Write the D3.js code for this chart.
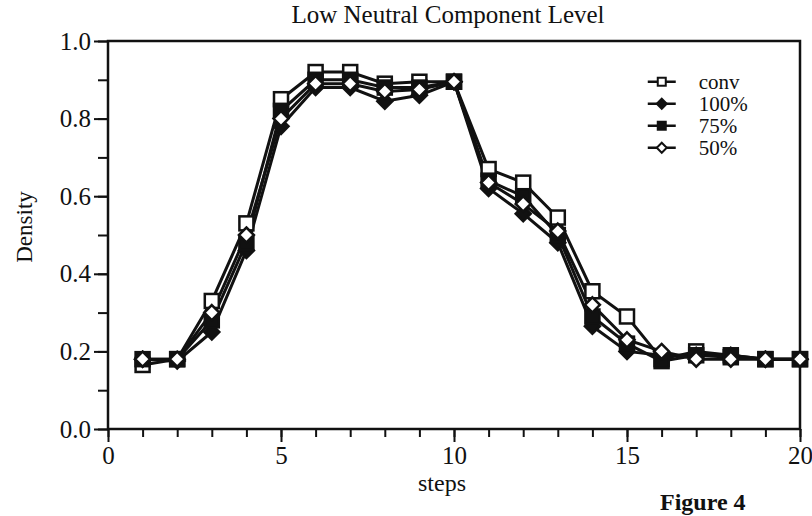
<!DOCTYPE html>
<html>
<head>
<meta charset="utf-8">
<script src="https://cdn.jsdelivr.net/npm/d3@7"></script>
<style>
  body { margin: 0; background: #fff; }
  text { font-family: "Liberation Serif", "DejaVu Serif", serif; fill: #111; }
</style>
</head>
<body>
<div id="chart-container"></div>
<script>
const steps = [1, 2, 3, 4, 5, 6, 7, 8, 9, 10, 11, 12, 13, 14, 15, 16, 17, 18, 19, 20];
const conv = [0.165, 0.18, 0.33, 0.53, 0.85, 0.92, 0.92, 0.89, 0.895, 0.895, 0.67, 0.635, 0.545, 0.355, 0.29, 0.18, 0.20, 0.19, 0.18, 0.18];
const pct100 = [0.18, 0.175, 0.25, 0.46, 0.78, 0.88, 0.88, 0.845, 0.86, 0.895, 0.62, 0.555, 0.48, 0.265, 0.20, 0.19, 0.19, 0.19, 0.18, 0.18];
const pct75 = [0.18, 0.18, 0.28, 0.48, 0.82, 0.90, 0.90, 0.88, 0.88, 0.895, 0.64, 0.60, 0.50, 0.29, 0.22, 0.175, 0.19, 0.185, 0.18, 0.18];
const pct50 = [0.18, 0.18, 0.30, 0.50, 0.80, 0.89, 0.89, 0.87, 0.875, 0.895, 0.635, 0.58, 0.51, 0.32, 0.23, 0.20, 0.18, 0.18, 0.18, 0.18];
const seriesNames = ["conv", "100%", "75%", "50%"];
const xTicks = [0, 5, 10, 15, 20];
const yTicks = [0.0, 0.2, 0.4, 0.6, 0.8, 1.0];

const series = [
    { name: seriesNames[0], values: conv, shape: "square", filled: false },
    { name: seriesNames[1], values: pct100, shape: "diamond", filled: true },
    { name: seriesNames[2], values: pct75, shape: "square", filled: true },
    { name: seriesNames[3], values: pct50, shape: "diamond", filled: false }
];

const margin = { top: 41, right: 12, bottom: 87, left: 108 };
const width = 812 - margin.left - margin.right;
const height = 516 - margin.top - margin.bottom;

const svg = d3.select("#chart-container")
    .append("svg")
    .attr("width", 812)
    .attr("height", 516)
    .append("g")
    .attr("transform", `translate(${margin.left}, ${margin.top})`);

const x = d3.scaleLinear().domain([0, 20]).range([0, width]);
const y = d3.scaleLinear().domain([0, 1]).range([height, 0]);

// frame
svg.append("rect")
    .attr("width", width)
    .attr("height", height)
    .attr("fill", "none")
    .attr("stroke", "#111")
    .attr("stroke-width", 2.5);

// minor ticks
svg.append("g")
    .attr("transform", `translate(0,${height})`)
    .call(d3.axisBottom(x).tickValues(d3.range(0, 21)).tickSize(8).tickFormat(""))
    .call(g => g.select(".domain").remove())
    .call(g => g.selectAll("line").attr("stroke", "#111").attr("stroke-width", 2));
svg.append("g")
    .attr("transform", `translate(0,${height})`)
    .call(d3.axisBottom(x).tickValues(xTicks).tickSize(13).tickPadding(4))
    .call(g => g.select(".domain").remove())
    .call(g => g.selectAll("line").attr("stroke", "#111").attr("stroke-width", 2))
    .call(g => g.selectAll("text").style("font-size", "25px").attr("font-family", null));

svg.append("g")
    .call(d3.axisLeft(y).tickValues(d3.range(0, 11).map(d => d / 10)).tickSize(10).tickFormat(""))
    .call(g => g.select(".domain").remove())
    .call(g => g.selectAll("line").attr("stroke", "#111").attr("stroke-width", 2));
svg.append("g")
    .call(d3.axisLeft(y).tickValues(yTicks).tickSize(14).tickPadding(3).tickFormat(d3.format(".1f")))
    .call(g => g.select(".domain").remove())
    .call(g => g.selectAll("line").attr("stroke", "#111").attr("stroke-width", 2))
    .call(g => g.selectAll("text").style("font-size", "25px").attr("font-family", null));

const line = d3.line()
    .x((d, i) => x(steps[i]))
    .y(d => y(d));

// marker: square or diamond, open or filled
function drawMarker(g, s, cx, cy, r, sw) {
    const fill = s.filled ? "#111" : "#fff";
    if (s.shape === "square") {
        g.append("rect")
            .attr("x", cx - r).attr("y", cy - r)
            .attr("width", 2 * r).attr("height", 2 * r)
            .attr("fill", fill).attr("stroke", "#111").attr("stroke-width", sw);
    } else {
        g.append("path")
            .attr("d", `M${cx},${cy - r}L${cx + r},${cy}L${cx},${cy + r}L${cx - r},${cy}Z`)
            .attr("fill", fill).attr("stroke", "#111").attr("stroke-width", sw);
    }
}

series.forEach(s => {
    svg.append("path")
        .datum(s.values)
        .attr("fill", "none")
        .attr("stroke", "#111")
        .attr("stroke-width", 3)
        .attr("d", line);
});
series.forEach(s => {
    const g = svg.append("g");
    s.values.forEach((v, i) => drawMarker(g, s, x(steps[i]), y(v), s.shape === "square" ? 7 : 7.5, 2.5));
});

// legend
const legend = svg.append("g").attr("transform", `translate(${x(15.6)}, ${y(0.895)})`);
series.forEach((s, i) => {
    const row = legend.append("g").attr("transform", `translate(0, ${i * 22})`);
    row.append("line")
        .attr("x1", 0).attr("x2", 28)
        .attr("stroke", "#111").attr("stroke-width", 2.5);
    drawMarker(row, s, 14, 0, s.shape === "square" ? 4 : 5, 2);
    row.append("text")
        .attr("x", 51)
        .attr("dy", "0.33em")
        .style("font-size", "21px")
        .text(s.name);
});

// title and labels
svg.append("text")
    .attr("x", width / 2 - 6)
    .attr("y", -18)
    .style("text-anchor", "middle")
    .style("font-size", "25px")
    .text("Low Neutral Component Level");

svg.append("text")
    .attr("transform", "rotate(-90)")
    .attr("x", -height / 2 + 8)
    .attr("y", -76)
    .style("text-anchor", "middle")
    .style("font-size", "23px")
    .text("Density");

svg.append("text")
    .attr("x", width / 2 - 12)
    .attr("y", height + 62)
    .style("text-anchor", "middle")
    .style("font-size", "24px")
    .text("steps");

svg.append("text")
    .attr("x", width - 140)
    .attr("y", height + 81)
    .style("font-size", "24px")
    .style("font-weight", "bold")
    .text("Figure 4");
</script>
</body>
</html>
